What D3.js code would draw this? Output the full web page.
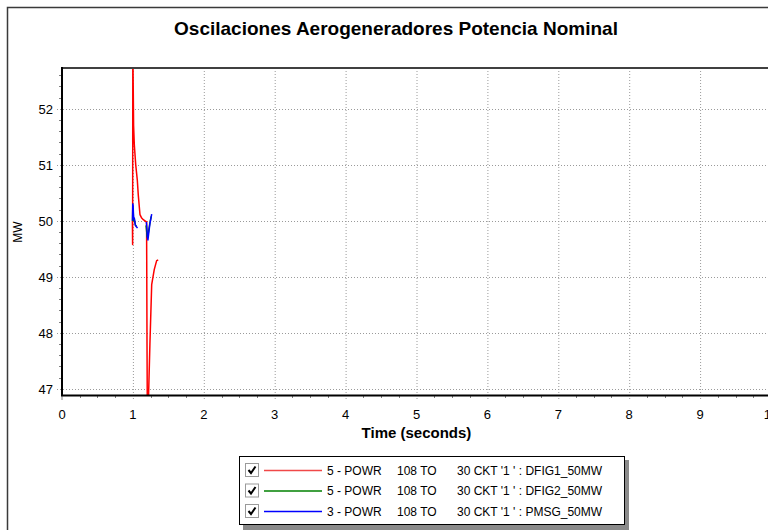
<!DOCTYPE html>
<html>
<head>
<meta charset="utf-8">
<script src="https://cdn.jsdelivr.net/npm/d3@7"></script>
<style>
  body { margin: 0; background: #fff; }
  text { font-family: "Liberation Sans", Arial, sans-serif; fill: #000; }
</style>
</head>
<body>
<div class="chart"></div>
<script>
var svgWidth = 768;
var svgHeight = 530;

// plot area (the chart is wider than the window, right edge is cut off)
var margin = { top: 68, left: 62 };
var plotRight = 771;
var plotBottom = 395;

// tick values
var xTicks = [0, 1, 2, 3, 4, 5, 6, 7, 8, 9, 10];
var yTicks = [47, 48, 49, 50, 51, 52];

// series values (null = gap in the trace)
var redTime = [0.993, 0.996, 0.999, 1.003, 1.010, 1.020, 1.040, 1.062, 1.076, 1.100, 1.124, 1.147, 1.170, 1.193, 1.199, 1.204, 1.209, 1.215, 1.240, 1.265, 1.301, 1.335, 1.357];
var redMW = [50.0, 49.58, 53.2, 52.6, 51.7, 51.36, 51.0, 50.73, 50.46, 50.11, 50.05, 50.02, 50.0, 49.98, 47.8, 46.5, 46.3, 46.6, 47.8, 48.86, 49.13, 49.29, 49.30];

var greenTime = [0.995, 0.998, 1.003, 1.010, 1.020, 1.035, 1.050, null, 1.185, 1.192, 1.200, 1.208, 1.222, 1.238, 1.258];
var greenMW = [50.0, 50.22, 50.2, 50.0, 50.02, 49.93, 49.9, null, 49.92, 49.84, 49.72, 49.7, 49.82, 49.95, 50.08];

var blueTime = [0.995, 0.998, 1.003, 1.010, 1.020, 1.035, 1.053, 1.065, null, 1.190, 1.196, 1.205, 1.212, 1.225, 1.240, 1.255, 1.265];
var blueMW = [50.0, 50.3, 50.28, 50.05, 50.05, 49.92, 49.89, 49.87, null, 49.98, 49.9, 49.7, 49.66, 49.8, 49.95, 50.05, 50.12];

// legend text
var legendNames = ["5 - POWR", "5 - POWR", "3 - POWR"];
var legendFrom = ["108 TO", "108 TO", "108 TO"];
var legendCkt = ["30 CKT '1 ' : DFIG1_50MW", "30 CKT '1 ' : DFIG2_50MW", "30 CKT '1 ' : PMSG_50MW"];
var legendColors = ["#f04848", "#008000", "#0000ff"];

var svg = d3.select(".chart")
  .append("svg")
  .attr("width", svgWidth)
  .attr("height", svgHeight);

// outer frame
svg.append("rect")
  .attr("x", 7.5)
  .attr("y", 7.5)
  .attr("width", 800)
  .attr("height", 560)
  .attr("fill", "none")
  .attr("stroke", "#3a3a3a")
  .attr("stroke-width", 1.5);

svg.append("text")
  .attr("x", 396)
  .attr("y", 35)
  .attr("text-anchor", "middle")
  .style("font-size", "19px")
  .style("font-weight", "bold")
  .text("Oscilaciones Aerogeneradores Potencia Nominal");

// scales
var xScale = d3.scaleLinear()
  .domain([0, 10])
  .range([margin.left, plotRight]);

var yScale = d3.scaleLinear()
  .domain([46.89, 52.73])
  .range([plotBottom, margin.top]);

// grid lines (dotted)
svg.append("g")
  .selectAll("line")
  .data(xTicks.slice(1))
  .enter()
  .append("line")
  .attr("x1", d => xScale(d) + 0.5)
  .attr("x2", d => xScale(d) + 0.5)
  .attr("y1", margin.top)
  .attr("y2", plotBottom + 4)
  .attr("stroke", "#9a9a9a")
  .attr("stroke-dasharray", "1,2");

svg.append("g")
  .selectAll("line")
  .data(yTicks)
  .enter()
  .append("line")
  .attr("x1", margin.left - 5)
  .attr("x2", plotRight)
  .attr("y1", d => Math.round(yScale(d)) + 0.5)
  .attr("y2", d => Math.round(yScale(d)) + 0.5)
  .attr("stroke", "#9a9a9a")
  .attr("stroke-dasharray", "1,2");

// minor ticks
var yMinor = d3.range(47, 52.8, 0.2).filter(d => Math.abs(d - Math.round(d)) > 0.01);
svg.append("g")
  .selectAll("line")
  .data(yMinor)
  .enter()
  .append("line")
  .attr("x1", margin.left - 3)
  .attr("x2", margin.left)
  .attr("y1", d => Math.round(yScale(d)) + 0.5)
  .attr("y2", d => Math.round(yScale(d)) + 0.5)
  .attr("stroke", "#808080");

var xMinor = d3.range(0, 10.01, 0.25).filter(d => Math.abs(d - Math.round(d)) > 0.01);
svg.append("g")
  .selectAll("line")
  .data(xMinor)
  .enter()
  .append("line")
  .attr("x1", d => Math.round(xScale(d)) + 0.5)
  .attr("x2", d => Math.round(xScale(d)) + 0.5)
  .attr("y1", plotBottom)
  .attr("y2", plotBottom + 3)
  .attr("stroke", "#808080");

svg.append("line")
  .attr("x1", margin.left)
  .attr("x2", margin.left)
  .attr("y1", plotBottom + 1)
  .attr("y2", plotBottom + 5)
  .attr("stroke", "#808080");

// tick labels
svg.append("g")
  .selectAll("text")
  .data(yTicks)
  .enter()
  .append("text")
  .attr("x", 53)
  .attr("y", d => yScale(d) + 5)
  .attr("text-anchor", "end")
  .style("font-size", "13px")
  .text(d => d);

svg.append("g")
  .selectAll("text")
  .data(xTicks)
  .enter()
  .append("text")
  .attr("x", d => xScale(d))
  .attr("y", 419)
  .attr("text-anchor", "middle")
  .style("font-size", "13px")
  .text(d => d);

// axis titles
svg.append("text")
  .attr("x", plotRight / 2 + margin.left / 2)
  .attr("y", 438)
  .attr("text-anchor", "middle")
  .style("font-size", "15px")
  .style("font-weight", "bold")
  .text("Time (seconds)");

svg.append("text")
  .attr("transform", "translate(22, 232) rotate(-90)")
  .attr("text-anchor", "middle")
  .style("font-size", "12px")
  .text("MW");

// clip the traces to the plot area
svg.append("clipPath")
  .attr("id", "plot-clip")
  .append("rect")
  .attr("x", margin.left)
  .attr("y", margin.top)
  .attr("width", plotRight - margin.left)
  .attr("height", plotBottom - margin.top);

var line = d3.line()
  .defined(d => d[0] !== null)
  .x(d => xScale(d[0]))
  .y(d => yScale(d[1]));

var series = [
  { t: redTime, v: redMW, color: "#ff0000" },
  { t: greenTime, v: greenMW, color: "#008000" },
  { t: blueTime, v: blueMW, color: "#0000ff" }
];

var traces = svg.append("g").attr("clip-path", "url(#plot-clip)");
series.forEach(function(s) {
  var pts = s.t.map((d, i) => [d, s.v[i]]);
  traces.append("path")
    .datum(pts)
    .attr("d", line)
    .attr("fill", "none")
    .attr("stroke", s.color)
    .attr("stroke-width", 1.5)
    .attr("stroke-linejoin", "round");
});

// axis frame: top grey, left and bottom black
svg.append("line")
  .attr("x1", margin.left)
  .attr("x2", svgWidth)
  .attr("y1", margin.top)
  .attr("y2", margin.top)
  .attr("stroke", "#404040")
  .attr("stroke-width", 2);

svg.append("line")
  .attr("x1", margin.left)
  .attr("x2", margin.left)
  .attr("y1", margin.top - 1)
  .attr("y2", plotBottom + 1)
  .attr("stroke", "#000")
  .attr("stroke-width", 2);

svg.append("line")
  .attr("x1", margin.left - 1)
  .attr("x2", svgWidth)
  .attr("y1", plotBottom + 0.5)
  .attr("y2", plotBottom + 0.5)
  .attr("stroke", "#000")
  .attr("stroke-width", 2);

// legend box with shadow
var legend = svg.append("g");
legend.append("rect")
  .attr("x", 243)
  .attr("y", 460)
  .attr("width", 386)
  .attr("height", 70)
  .attr("fill", "#8a8a8a");
legend.append("rect")
  .attr("x", 239.5)
  .attr("y", 456.5)
  .attr("width", 385)
  .attr("height", 68)
  .attr("fill", "#fff")
  .attr("stroke", "#000");

var rows = legend.selectAll("g.row")
  .data(legendNames)
  .enter()
  .append("g")
  .attr("class", "row")
  .attr("transform", (d, i) => `translate(0, ${470 + i * 20.5})`);

rows.append("rect")
  .attr("x", 245.5)
  .attr("y", -6.5)
  .attr("width", 13)
  .attr("height", 13)
  .attr("fill", "#fff")
  .attr("stroke", "#9a9a9a");

rows.append("path")
  .attr("d", "M248.5,0 L251,3 L255.5,-3.5")
  .attr("fill", "none")
  .attr("stroke", "#000")
  .attr("stroke-width", 2);

rows.append("line")
  .attr("x1", 264)
  .attr("x2", 322)
  .attr("y1", 0.5)
  .attr("y2", 0.5)
  .attr("stroke", (d, i) => legendColors[i])
  .attr("stroke-width", 1.5);

rows.append("text")
  .attr("x", 327)
  .attr("y", 4.5)
  .style("font-size", "12px")
  .text(d => d);

rows.append("text")
  .attr("x", 397)
  .attr("y", 4.5)
  .style("font-size", "12px")
  .text((d, i) => legendFrom[i]);

rows.append("text")
  .attr("x", 457)
  .attr("y", 4.5)
  .style("font-size", "12px")
  .text((d, i) => legendCkt[i]);
</script>
</body>
</html>
